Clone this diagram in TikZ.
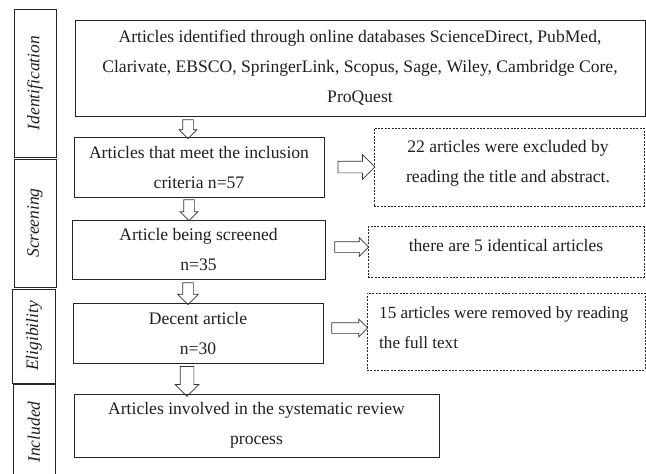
\documentclass[tikz,border=0pt]{standalone}
\usepackage{fontspec}
\setmainfont{Liberation Serif}
\usetikzlibrary{shapes.arrows}
\begin{document}
\begin{tikzpicture}[x=1pt,y=-1pt,
  every node/.style={font=\fontsize{17.6}{30}\selectfont, text=black!88},
  mainbox/.style={draw=black!85, line width=0.8pt, align=center, inner sep=0pt},
  dbox/.style={draw=black!85, dash pattern=on 2pt off 1.4pt, line width=0.8pt, inner sep=0pt},
  sidebox/.style={draw=black!85, line width=0.8pt, inner sep=0pt, rotate=90,
     font=\fontsize{17.5}{20}\selectfont\itshape},
  barrow/.style={single arrow, draw=black!80, line width=0.7pt, inner xsep=0pt,
     single arrow tip angle=90}
]
\useasboundingbox (0,0) rectangle (646,474);

% side labels
\node[sidebox, minimum width=148, minimum height=42] (s1) at (35,83) {Identification};
\node[sidebox, minimum width=128, minimum height=42] (s2) at (35,223) {Screening};
\node[sidebox, minimum width=94, minimum height=43] (s3) at (34,336) {Eligibility};
\node[sidebox, minimum width=96, minimum height=42] (s4) at (34,432) {Included};

% main boxes
\node[mainbox, minimum width=570, minimum height=96] (b1) at (360,68)
  {Articles identified through online databases ScienceDirect, PubMed,\\
   Clarivate, EBSCO, SpringerLink, Scopus, Sage, Wiley, Cambridge Core,\\
   ProQuest};
\node[mainbox, minimum width=250, minimum height=60] (b2) at (199,167)
  {Articles that meet the inclusion\\criteria n=57};
\node[mainbox, minimum width=253, minimum height=59] (b3) at (198.5,249.5)
  {Article being screened\\n=35};
\node[mainbox, minimum width=250, minimum height=60] (b4) at (198,333)
  {Decent article\\n=30};
\node[mainbox, minimum width=365, minimum height=63] (b5) at (256.5,425.5)
  {Articles involved in the systematic review\\process};

% dashed boxes
\node[dbox, minimum width=270, minimum height=78] (d1) at (509,167) {};
\node[inner sep=0pt, align=center] (t1) at (508,163)
  {22 articles were excluded by\\reading the title and abstract.};
\node[dbox, minimum width=276, minimum height=51] (d2) at (506,252) {};
\node[inner sep=0pt] (t2) at (506,245) {there are 5 identical articles};
\node[dbox, minimum width=278, minimum height=77] (d3) at (506,331.5) {};
\node[inner sep=0pt, align=left, anchor=west, font=\fontsize{17.1}{30}\selectfont] (t3) at (379,328)
  {15 articles were removed by reading\\the full text};

% down arrows
\node[barrow, rotate=-90, minimum height=19, inner ysep=5, single arrow head extend=3.5] (a1) at (188,126.5) {};
\node[barrow, rotate=-90, minimum height=21, inner ysep=5, single arrow head extend=3.5] (a2) at (189,207.5) {};
\node[barrow, rotate=-90, minimum height=22, inner ysep=5, single arrow head extend=5] (a3) at (188,291) {};
\node[barrow, rotate=-90, minimum height=30, inner ysep=6.5, single arrow head extend=5] (a4) at (187,378) {};

% right arrows
\node[barrow, minimum height=37, inner ysep=5.5, single arrow head extend=6.5] (h1) at (353.5,167) {};
\node[barrow, minimum height=34, inner ysep=5, single arrow head extend=4] (h2) at (349,247) {};
\node[barrow, minimum height=36, inner ysep=5, single arrow head extend=3.5] (h3) at (347,328) {};
\end{tikzpicture}
\end{document}
